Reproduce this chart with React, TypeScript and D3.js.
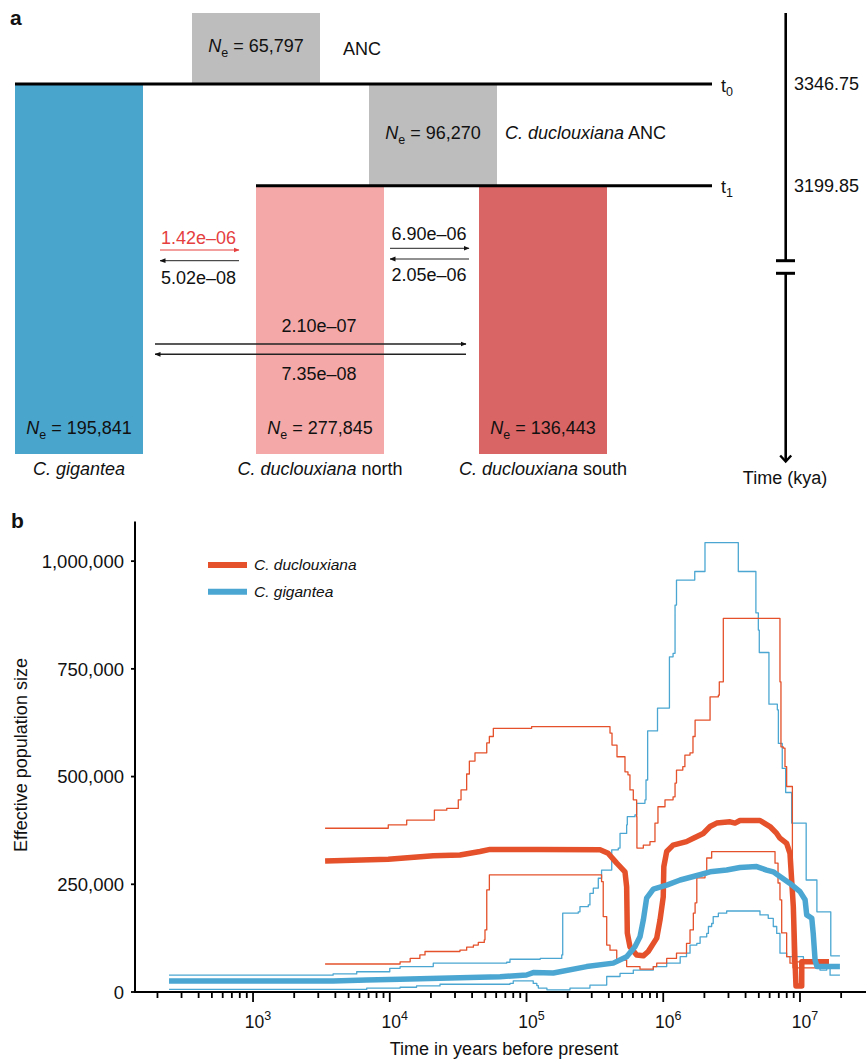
import React, { useEffect } from "react";
import * as d3 from "d3";

const W = 866;
const H = 1063;
const FONT = "'Liberation Sans', Arial, Helvetica, sans-serif";
const FS = 18;

// ---- panel a: demographic model ----
const popNames = ["C. gigantea", "C. duclouxiana north", "C. duclouxiana south"];
const popNe = [195841, 277845, 136443];
const popColors = ["#4aa5cc", "#f4a9a8", "#d96565"];
const ancNames = ["ANC", "C. duclouxiana ANC"];
const ancNe = [65797, 96270];
const splitTimes = [3346.75, 3199.85]; // t0, t1 (kya)
const splitLabels = ["0", "1"];
const migForward = ["1.42e–06", "6.90e–06", "2.10e–07"];
const migBackward = ["5.02e–08", "2.05e–06", "7.35e–08"];

// ---- panel b: PSMC curves, [years before present, Ne] ----
const ducMedian = [
  [3365, 304000], [9750, 308000], [20800, 316000], [32600, 318000], [45700, 326000],
  [54100, 331000], [126000, 331000], [345000, 330000], [395000, 322000], [457000, 299000],
  [525000, 279000], [540000, 244000], [546000, 137000], [571000, 105000], [639000, 86000],
  [715000, 84000], [777000, 94000], [896000, 125000], [947000, 167000], [1000000, 221000],
  [1010000, 291000], [1060000, 326000], [1180000, 341000], [1480000, 349000], [1660000, 357000],
  [1960000, 368000], [2200000, 384000], [2460000, 392000], [3080000, 395000], [3350000, 392000],
  [3640000, 398000], [5100000, 398000], [6030000, 384000], [6760000, 368000], [7140000, 357000],
  [7990000, 345000], [8450000, 322000], [8940000, 198000], [9190000, 74000], [9350000, 14000],
  [10300000, 14000], [10310000, 70000], [16300000, 70000],
];
const ducUpper = [
  [3365, 380000], [9750, 388000], [13300, 399000], [21200, 422000], [26100, 426000],
  [31700, 446000], [33200, 469000], [36500, 506000], [38200, 536000], [42000, 555000],
  [51200, 578000], [53500, 593000], [57200, 612000], [109000, 616000], [408000, 601000],
  [422000, 573000], [459000, 546000], [525000, 511000], [552000, 504000], [571000, 469000],
  [604000, 446000], [639000, 407000], [642000, 334000], [715000, 341000], [800000, 349000],
  [870000, 392000], [915000, 430000], [1030000, 446000], [1180000, 453000], [1220000, 485000],
  [1250000, 515000], [1390000, 523000], [1440000, 550000], [1570000, 555000], [1650000, 593000],
  [1710000, 631000], [2200000, 685000], [2530000, 689000], [2570000, 720000], [2750000, 867000],
  [7140000, 720000], [7260000, 569000], [7550000, 566000], [7770000, 523000], [7990000, 477000],
  [8800000, 70000], [16300000, 70000],
];
const ducLower = [
  [3365, 65000], [11900, 70000], [14100, 78000], [16600, 86000], [18100, 94000],
  [32600, 97000], [36500, 104000], [40900, 109000], [44400, 115000], [49100, 121000],
  [49700, 144000], [51200, 237000], [53500, 272000], [354000, 256000], [364000, 175000],
  [386000, 109000], [408000, 97000], [457000, 74000], [540000, 59000], [676000, 53000],
  [846000, 59000], [896000, 67000], [1060000, 78000], [1250000, 90000], [1480000, 113000],
  [1570000, 144000], [1660000, 183000], [1710000, 207000], [1760000, 265000], [2020000, 272000],
  [2080000, 311000], [2260000, 326000], [6570000, 299000], [6910000, 253000], [7140000, 214000],
  [7350000, 137000], [7990000, 82000], [8450000, 67000], [8900000, 56000], [16300000, 56000],
];
const gigMedian = [
  [243, 25500], [3850, 25500], [6780, 28000], [11900, 29500], [23300, 32000],
  [64000, 35500], [100000, 39500], [112000, 45000], [157000, 44000], [275000, 59000],
  [431000, 67000], [540000, 82000], [621000, 105000], [676000, 128000], [715000, 167000],
  [756000, 218000], [846000, 239000], [1060000, 248000], [1330000, 260000], [1660000, 268000],
  [2200000, 279000], [2910000, 283000], [3640000, 289000], [4820000, 291000], [5700000, 283000],
  [6380000, 279000], [7140000, 268000], [8450000, 252000], [10000000, 233000], [10900000, 214000],
  [11200000, 179000], [12200000, 171000], [12500000, 136000], [12900000, 74000], [13300000, 59000],
  [19600000, 59000],
];
const gigUpper = [
  [243, 39000], [3850, 42000], [5730, 47000], [10000, 55000], [11900, 59000],
  [20800, 67000], [71600, 69000], [75700, 76000], [126000, 78000], [181000, 86000],
  [184000, 183000], [239000, 186000], [246000, 198000], [283000, 202000], [291000, 229000],
  [308000, 241000], [335000, 264000], [354000, 283000], [420000, 330000], [469000, 334000],
  [483000, 368000], [540000, 388000], [546000, 407000], [621000, 411000], [639000, 438000],
  [735000, 446000], [748000, 492000], [769000, 606000], [908000, 659000], [1110000, 778000],
  [1180000, 786000], [1220000, 898000], [1250000, 956000], [1700000, 976000], [2020000, 1043000],
  [3540000, 976000], [4760000, 880000], [4960000, 840000], [5040000, 788000], [5930000, 668000],
  [6830000, 655000], [6950000, 577000], [7420000, 519000], [7860000, 463000], [8690000, 392000],
  [11100000, 260000], [13300000, 186000], [16800000, 84000], [19600000, 84000],
];
const gigLower = [
  [243, 6000], [3850, 6000], [6780, 9000], [11900, 11000], [15700, 14000],
  [23300, 18000], [75700, 20000], [80000, 26000], [112000, 20000], [119000, 15000],
  [122000, 9000], [141000, 5000], [208000, 9000], [291000, 16000], [386000, 36000],
  [483000, 43000], [604000, 51000], [846000, 59000], [1060000, 67000], [1330000, 82000],
  [1480000, 90000], [1570000, 109000], [1760000, 113000], [1860000, 128000], [2080000, 136000],
  [2140000, 152000], [2260000, 159000], [2320000, 175000], [2530000, 183000], [2910000, 188000],
  [4550000, 188000], [5100000, 179000], [5860000, 171000], [6380000, 152000], [6760000, 136000],
  [7140000, 90000], [7990000, 82000], [10600000, 74000], [12500000, 67000], [14000000, 51000],
  [15700000, 63000], [16600000, 39000], [19600000, 39000],
];
const yTicks = [0, 250000, 500000, 750000, 1000000];
const xMajor = [1e3, 1e4, 1e5, 1e6, 1e7];
const legendNames = ["C. duclouxiana", "C. gigantea"];

const RED = "#e4512b";
const BLUE = "#4ba7d2";
const ARROW_RED = "#e5403f";

const fmt = d3.format(",");

function NeLabel({ x, y, value, anchor = "middle" }) {
  return (
    <text x={x} y={y} textAnchor={anchor} fontSize={FS}>
      <tspan fontStyle="italic">N</tspan>
      <tspan fontSize={12.5} dy={5}>e</tspan>
      <tspan dy={-5}>{" = " + fmt(value)}</tspan>
    </text>
  );
}

function Species({ x, y, name }) {
  const [genus, ...rest] = name.split(" ");
  const ep = rest[0];
  const tail = rest.slice(1).join(" ");
  return (
    <text x={x} y={y} textAnchor="middle" fontSize={FS}>
      <tspan fontStyle="italic">{genus + " " + ep}</tspan>
      {tail ? <tspan>{" " + tail}</tspan> : null}
    </text>
  );
}

export default function App() {
  useEffect(() => {
    document.body.style.margin = "0";
  }, []);

  // panel a layout
  const tY = d3.scaleLinear().domain(splitTimes).range([84, 185.7]);
  const barX = [15, 256, 479];
  const barW = 128;
  const barBottom = 454;
  const lineEnd = 712;

  // panel b scales
  const x = d3.scaleLog().domain([137, 3.04e7]).range([135, 866]);
  const y = d3.scaleLinear().domain([0, 1092000]).range([992, 521.5]);
  const stepLine = d3.line().x((d) => x(d[0])).y((d) => y(d[1])).curve(d3.curveStepAfter);
  const smoothLine = d3.line().x((d) => x(d[0])).y((d) => y(d[1])).curve(d3.curveLinear);

  const minor = [];
  for (let e = 2; e <= 7; e++) {
    for (let m = 2; m <= 9; m++) {
      const v = m * Math.pow(10, e);
      if (v <= 2e7) minor.push(v);
    }
  }

  const arrowPairs = [
    { x0: 160, x1: 239, yf: 250, yb: 260.7, lf: 244, lb: 284, cx: 198.5, w: 1, fcolor: ARROW_RED },
    { x0: 390, x1: 469, yf: 248.3, yb: 259, lf: 239.5, lb: 280.7, cx: 429, w: 1, fcolor: "#111" },
    { x0: 155, x1: 466, yf: 344, yb: 354.3, lf: 332, lb: 380, cx: 319, w: 1.4, fcolor: "#111" },
  ];

  return (
    <svg width={W} height={H} style={{ position: "absolute", left: 0, top: 0, fontFamily: FONT }} fill="#111">
      <defs>
        <marker id="headRed" viewBox="0 0 6 6" refX="5.5" refY="3" markerWidth="6" markerHeight="6" markerUnits="userSpaceOnUse" orient="auto">
          <path d="M0,0.6 L6,3 L0,5.4 z" fill={ARROW_RED} />
        </marker>
        <marker id="headK" viewBox="0 0 6 6" refX="5.5" refY="3" markerWidth="6" markerHeight="6" markerUnits="userSpaceOnUse" orient="auto">
          <path d="M0,0.6 L6,3 L0,5.4 z" fill="#111" />
        </marker>
      </defs>

      {/* ---------- panel a ---------- */}
      <text x={10} y={25} fontSize={21} fontWeight="bold">a</text>

      {/* ancestral boxes */}
      <rect x={192} y={13} width={barW} height={tY(splitTimes[0]) - 13} fill="#bdbdbd" />
      <rect x={369} y={tY(splitTimes[0])} width={barW} height={tY(splitTimes[1]) - tY(splitTimes[0])} fill="#bdbdbd" />
      <NeLabel x={256} y={52} value={ancNe[0]} />
      <text x={343} y={55} fontSize={FS}>{ancNames[0]}</text>
      <NeLabel x={433} y={139} value={ancNe[1]} />
      <text x={505} y={139} fontSize={FS}>
        <tspan fontStyle="italic">{ancNames[1].split(" ").slice(0, 2).join(" ")}</tspan>
        <tspan>{" " + ancNames[1].split(" ")[2]}</tspan>
      </text>

      {/* population bars */}
      {popNames.map((n, i) => (
        <g key={n}>
          <rect x={barX[i]} y={tY(splitTimes[i === 0 ? 0 : 1])} width={barW} height={barBottom - tY(splitTimes[i === 0 ? 0 : 1])} fill={popColors[i]} />
          <NeLabel x={barX[i] + barW / 2} y={434} value={popNe[i]} />
          <Species x={barX[i] + barW / 2} y={475} name={n} />
        </g>
      ))}

      {/* split lines */}
      {splitTimes.map((t, i) => (
        <g key={t}>
          <line x1={i === 0 ? 15 : 256} x2={lineEnd} y1={tY(t)} y2={tY(t)} stroke="#000" strokeWidth={3} />
          <text x={721} y={tY(t) + 7.5} fontSize={FS}>
            t<tspan fontSize={12.5} dy={4}>{splitLabels[i]}</tspan>
          </text>
          <text x={794} y={tY(t) + 6} fontSize={FS}>{t.toFixed(2)}</text>
        </g>
      ))}

      {/* migration arrows */}
      {arrowPairs.map((p, i) => (
        <g key={i}>
          <line x1={p.x0} x2={p.x1} y1={p.yf} y2={p.yf} stroke={i === 0 ? ARROW_RED : "#222"} strokeWidth={p.w} markerEnd={i === 0 ? "url(#headRed)" : "url(#headK)"} />
          <line x1={p.x1} x2={p.x0} y1={p.yb} y2={p.yb} stroke="#222" strokeWidth={p.w} markerEnd="url(#headK)" />
          <text x={p.cx} y={p.lf} textAnchor="middle" fontSize={FS} fill={p.fcolor}>{migForward[i]}</text>
          <text x={p.cx} y={p.lb} textAnchor="middle" fontSize={FS}>{migBackward[i]}</text>
        </g>
      ))}

      {/* time axis */}
      <g stroke="#000" fill="none">
        <line x1={785.7} x2={785.7} y1={13} y2={260.7} strokeWidth={2.6} />
        <line x1={785.7} x2={785.7} y1={273.3} y2={461} strokeWidth={2.6} />
        <line x1={776} x2={795} y1={260.7} y2={260.7} strokeWidth={3} />
        <line x1={776} x2={795} y1={273.3} y2={273.3} strokeWidth={3} />
        <path d="M780.2,455.5 L785.7,461.5 L791.2,455.5" strokeWidth={2.4} />
      </g>
      <text x={785} y={484} textAnchor="middle" fontSize={FS}>Time (kya)</text>

      {/* ---------- panel b ---------- */}
      <text x={11} y={528} fontSize={21} fontWeight="bold">b</text>

      {/* y axis */}
      <line x1={135} x2={135} y1={521.5} y2={992} stroke="#000" strokeWidth={2} />
      {yTicks.map((t) => (
        <g key={t}>
          <line x1={131} x2={135} y1={y(t)} y2={y(t)} stroke="#000" strokeWidth={1.8} />
          <text x={124} y={y(t)} dy="0.36em" textAnchor="end" fontSize={18.5}>{fmt(t)}</text>
        </g>
      ))}
      <text transform={`translate(27,${755}) rotate(-90)`} textAnchor="middle" fontSize={FS}>Effective population size</text>

      {/* x axis */}
      <line x1={134} x2={866} y1={992} y2={992} stroke="#000" strokeWidth={2.2} />
      {minor.map((v) => (
        <line key={v} x1={x(v)} x2={x(v)} y1={992} y2={998} stroke="#000" strokeWidth={1.8} />
      ))}
      {xMajor.map((v) => (
        <g key={v}>
          <line x1={x(v)} x2={x(v)} y1={992} y2={1002} stroke="#000" strokeWidth={1.8} />
          <text x={x(v) + 5} y={1028} textAnchor="middle" fontSize={17.5}>
            10<tspan fontSize={12.5} dy={-8}>{Math.log10(v)}</tspan>
          </text>
        </g>
      ))}
      <text x={504} y={1055} textAnchor="middle" fontSize={FS}>Time in years before present</text>

      {/* curves */}
      <g fill="none" strokeLinejoin="round">
        <path d={stepLine(gigUpper)} stroke={BLUE} strokeWidth={1.3} />
        <path d={stepLine(gigLower)} stroke={BLUE} strokeWidth={1.3} />
        <path d={stepLine(ducUpper)} stroke={RED} strokeWidth={1.3} />
        <path d={stepLine(ducLower)} stroke={RED} strokeWidth={1.3} />
        <path d={smoothLine(ducMedian)} stroke={RED} strokeWidth={5.5} />
        <path d={smoothLine(gigMedian)} stroke={BLUE} strokeWidth={5.5} />
      </g>

      {/* legend */}
      {legendNames.map((n, i) => (
        <g key={n}>
          <line x1={208} x2={247} y1={565 + i * 26.7} y2={565 + i * 26.7} stroke={i === 0 ? RED : BLUE} strokeWidth={6} />
          <text x={254} y={570 + i * 26.7} fontSize={15.5} fontStyle="italic">{n}</text>
        </g>
      ))}
    </svg>
  );
}
